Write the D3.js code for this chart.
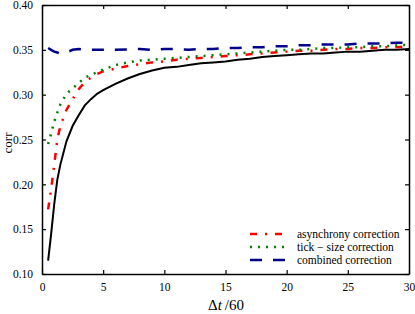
<!DOCTYPE html>
<html>
<head>
<meta charset="utf-8">
<script src="https://cdn.jsdelivr.net/npm/d3@7"></script>
<style>
  body { margin: 0; background: #fff; }
  svg text { font-family: "Liberation Serif", "DejaVu Serif", serif; fill: #000; }
</style>
</head>
<body>
<div id="chart"></div>
<script>
// x positions (dt/60)
var dt = [0.5, 0.75, 1, 1.25, 1.5, 2, 2.5, 3, 3.5, 4, 4.5, 5, 6, 7, 8, 9, 10, 11, 12, 13, 14, 15,
  16, 17, 18, 19, 20, 21, 22, 23, 24, 25, 26, 27, 28, 29, 30];
var raw = [0.115, 0.145, 0.178, 0.205, 0.222, 0.248, 0.265, 0.277, 0.288, 0.295, 0.301, 0.305, 0.312, 0.318, 0.323, 0.327, 0.330, 0.331, 0.333, 0.335, 0.336, 0.337,
  0.339, 0.340, 0.342, 0.343, 0.344, 0.345, 0.346, 0.346, 0.347, 0.348, 0.348, 0.349, 0.350, 0.350, 0.351];
var asynchrony = [0.172, 0.195, 0.222, 0.250, 0.265, 0.283, 0.295, 0.306, 0.314, 0.319, 0.323, 0.326, 0.329, 0.332, 0.334, 0.336, 0.337, 0.339, 0.340, 0.341, 0.342, 0.343,
  0.344, 0.345, 0.346, 0.347, 0.348, 0.349, 0.349, 0.350, 0.351, 0.351, 0.352, 0.352, 0.353, 0.353, 0.354];
var tickSize = [0.245, 0.257, 0.270, 0.280, 0.289, 0.301, 0.307, 0.313, 0.319, 0.322, 0.325, 0.328, 0.333, 0.336, 0.338, 0.339, 0.340, 0.341, 0.342, 0.343, 0.344, 0.345,
  0.346, 0.347, 0.348, 0.349, 0.350, 0.350, 0.351, 0.352, 0.352, 0.353, 0.353, 0.354, 0.354, 0.355, 0.3555];
var combined = [0.352, 0.350, 0.348, 0.347, 0.3455, 0.347, 0.350, 0.351, 0.350, 0.350, 0.350, 0.350, 0.350, 0.3505, 0.351, 0.350, 0.351, 0.351, 0.350, 0.351, 0.351, 0.352,
  0.352, 0.353, 0.353, 0.354, 0.354, 0.355, 0.355, 0.356, 0.356, 0.356, 0.357, 0.357, 0.357, 0.358, 0.358];
var xTicks = [0, 5, 10, 15, 20, 25, 30];
var yTicks = [0.10, 0.15, 0.20, 0.25, 0.30, 0.35, 0.40];

var width = 415, height = 314;
var padLeft = 42, padRight = 409, padTop = 5, padBottom = 274;

var svg = d3.select('#chart').append('svg')
  .attr('width', width).attr('height', height);

var x = d3.scaleLinear().domain([0, 30]).range([padLeft, padRight]);
var y = d3.scaleLinear().domain([0.10, 0.40]).range([padBottom, padTop]);

var series = [
  {name: 'raw', values: raw, color: '#000', dash: null, w: 2},
  {name: 'asynchrony correction', values: asynchrony, color: '#ff0000', dash: '7,8,2,8', w: 2.5},
  {name: 'tick \u2212 size correction', values: tickSize, color: '#008000', dash: '2,6', w: 2.5},
  {name: 'combined correction', values: combined, color: '#00008b', dash: '12,11', w: 2.5}
];

var line = d3.line()
  .x(function(d) { return x(d[0]); })
  .y(function(d) { return y(d[1]); });

svg.append('g').selectAll('path.series')
  .data(series).enter().append('path')
  .classed('series', true)
  .attr('fill', 'none')
  .attr('stroke', function(d) { return d.color; })
  .attr('stroke-width', function(d) { return d.w; })
  .attr('stroke-dasharray', function(d) { return d.dash; })
  .attr('d', function(d) { return line(d3.zip(dt, d.values)); });

// axes, ticks inside on all four sides
var tk = 4;
svg.append('g').attr('transform', 'translate(0,' + padBottom + ')')
  .call(d3.axisBottom(x).tickValues(xTicks).tickSizeInner(-tk).tickSizeOuter(0).tickPadding(9).tickFormat(d3.format('d')));
svg.append('g').attr('transform', 'translate(0,' + padTop + ')')
  .call(d3.axisTop(x).tickValues(xTicks).tickSizeInner(-tk).tickSizeOuter(0).tickFormat(''));
svg.append('g').attr('transform', 'translate(' + padLeft + ',0)')
  .call(d3.axisLeft(y).tickValues(yTicks).tickSizeInner(-tk).tickSizeOuter(0).tickPadding(9).tickFormat(d3.format('.2f')));
svg.append('g').attr('transform', 'translate(' + padRight + ',0)')
  .call(d3.axisRight(y).tickValues(yTicks).tickSizeInner(-tk).tickSizeOuter(0).tickFormat(''));

svg.selectAll('.domain').attr('stroke', '#000').attr('stroke-width', 1.5);
svg.selectAll('.tick line').attr('stroke', '#000').attr('stroke-width', 1.2);
svg.selectAll('.tick text').style('font-family', '"Liberation Serif", serif').style('font-size', '11.5px').attr('fill', '#222');

// axis labels
svg.append('text')
  .attr('transform', 'translate(12,143) rotate(-90)')
  .attr('text-anchor', 'middle')
  .style('font-size', '13px')
  .text('corr');

var xl = svg.append('text')
  .attr('x', 226).attr('y', 310)
  .attr('text-anchor', 'middle')
  .style('font-size', '15px');
xl.append('tspan').text('\u0394');
xl.append('tspan').style('font-style', 'italic').text('t');
xl.append('tspan').text('\u2009/60');

// legend
var legend = svg.append('g').selectAll('g.leg')
  .data(series.slice(1)).enter().append('g')
  .attr('transform', function(d, i) { return 'translate(0,' + (234 + i * 13) + ')'; });
legend.append('line')
  .attr('x1', 250).attr('x2', 285).attr('y1', 0).attr('y2', 0)
  .attr('stroke', function(d) { return d.color; })
  .attr('stroke-width', function(d) { return d.w; })
  .attr('stroke-dasharray', function(d) { return d.dash; });
legend.append('text')
  .attr('x', 297).attr('y', 4)
  .style('font-size', '11.5px')
  .text(function(d) { return d.name; });
</script>
</body>
</html>
